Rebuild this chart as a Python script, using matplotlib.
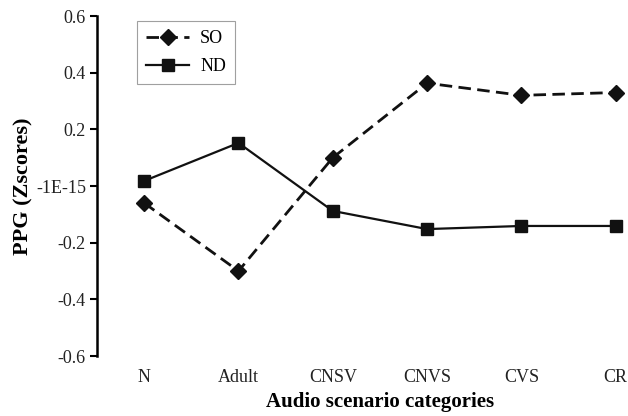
import matplotlib
matplotlib.use("Agg")
import matplotlib.pyplot as plt

categories = ["N", "Adult", "CNSV", "CNVS", "CVS", "CR"]
so_values = [-0.06, -0.30, 0.10, 0.363, 0.32, 0.33]
nd_values = [0.018, 0.152, -0.088, -0.152, -0.141, -0.141]
y_ticks = [-0.6, -0.4, -0.2, 0.0, 0.2, 0.4, 0.6]
y_tick_labels = ["-0.6", "-0.4", "-0.2", "-1E-15", "0.2", "0.4", "0.6"]

plt.rcParams["font.family"] = ["Liberation Serif", "DejaVu Serif"]

fig = plt.figure(figsize=(6.28, 4.16), dpi=100)
# axes runs past the right edge, as in the cropped original
ax = fig.add_axes([0.1545, 0.1442, 0.901, 0.8173])

x = list(range(len(categories)))
ax.plot(x, so_values, color="#111111", lw=2, dashes=(4.5, 2.3),
        marker="D", markersize=8.5, label="SO")
ax.plot(x, nd_values, color="#111111", lw=1.6,
        marker="s", markersize=8.5, label="ND")

ax.set_xlim(-0.5, 5.5)
ax.set_ylim(-0.6, 0.6)
ax.set_yticks(y_ticks)
ax.set_yticklabels(y_tick_labels, fontsize=13, color="#222222")
ax.set_xticks(x)
ax.set_xticklabels(categories, fontsize=13, color="#222222")
ax.tick_params(axis="x", length=0, pad=9)
ax.tick_params(axis="y", length=5, width=1.5, direction="out", pad=3)

for s in ["top", "right", "bottom"]:
    ax.spines[s].set_visible(False)
ax.spines["left"].set_linewidth(1.8)

ax.set_ylabel("PPG (Zscores)", fontsize=16, fontweight="bold", labelpad=2)
ax.set_xlabel("Audio scenario categories", fontsize=15, fontweight="bold", labelpad=5)

leg = ax.legend(loc="upper left", bbox_to_anchor=(0.064, 0.995), frameon=True,
                fancybox=False, edgecolor="#888888", fontsize=13,
                handlelength=2.4, handletextpad=0.6, borderpad=0.5,
                labelspacing=0.6, borderaxespad=0.2)
leg.get_frame().set_linewidth(0.8)

fig.savefig("out.png", dpi=100)
